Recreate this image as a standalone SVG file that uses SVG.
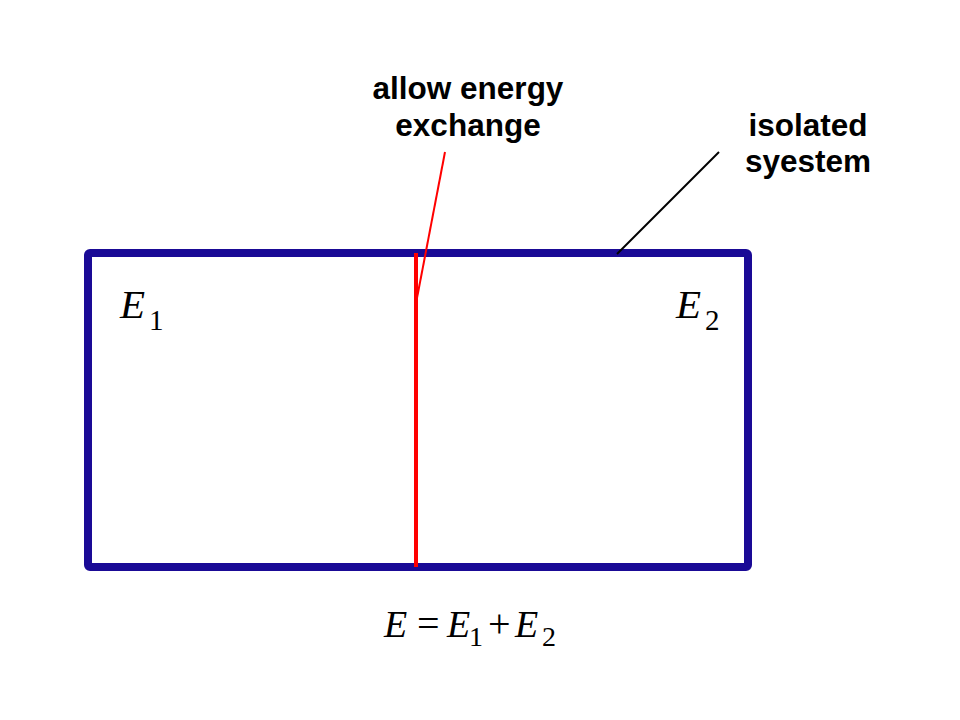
<svg xmlns="http://www.w3.org/2000/svg" width="960" height="720" viewBox="0 0 960 720">
<style>
.lbl{font-family:"Liberation Sans",Arial,sans-serif;font-weight:bold;font-size:31.5px;fill:#000;text-anchor:middle}
.m{font-family:"Liberation Serif","Times New Roman",serif;font-style:italic;font-size:41px;fill:#000}
.mf{font-family:"Liberation Serif","Times New Roman",serif;font-style:italic;font-size:38px;fill:#000}
.s{font-family:"Liberation Serif","Times New Roman",serif;font-size:29px;fill:#000}
.sf{font-family:"Liberation Serif","Times New Roman",serif;font-size:28px;fill:#000}
.o{font-family:"Liberation Serif","Times New Roman",serif;font-size:40px;fill:#000}
</style>
<rect width="960" height="720" fill="#fff"/>
<g id="system">
<rect x="88" y="253" width="660" height="314" rx="2" fill="none" stroke="#1a0a96" stroke-width="8"/>
</g>
<g id="wall">
<line x1="416" y1="253" x2="416" y2="567" stroke="#ff0000" stroke-width="4"/>
</g>
<g id="connectors">
<line x1="445" y1="152" x2="417" y2="298" stroke="#ff0000" stroke-width="2"/>
<line x1="719" y1="152" x2="617" y2="254" stroke="#000" stroke-width="2"/>
</g>
<g id="label-exchange">
<text class="lbl" x="468" y="99">allow energy</text>
<text class="lbl" x="468" y="136">exchange</text>
</g>
<g id="label-isolated">
<text class="lbl" x="808" y="136">isolated</text>
<text class="lbl" x="808" y="172">syestem</text>
</g>
<g id="E1">
<text class="m" x="120" y="318">E</text>
<text class="s" x="149" y="330">1</text>
</g>
<g id="E2">
<text class="m" x="676" y="318">E</text>
<text class="s" x="705" y="330">2</text>
</g>
<g id="formula">
<text class="mf" x="384" y="637">E</text>
<text class="o" x="417" y="637">=</text>
<text class="mf" x="447" y="637">E</text>
<text class="sf" x="469" y="646">1</text>
<text class="o" x="488" y="637">+</text>
<text class="mf" x="515" y="637">E</text>
<text class="sf" x="542" y="646">2</text>
</g>
</svg>
